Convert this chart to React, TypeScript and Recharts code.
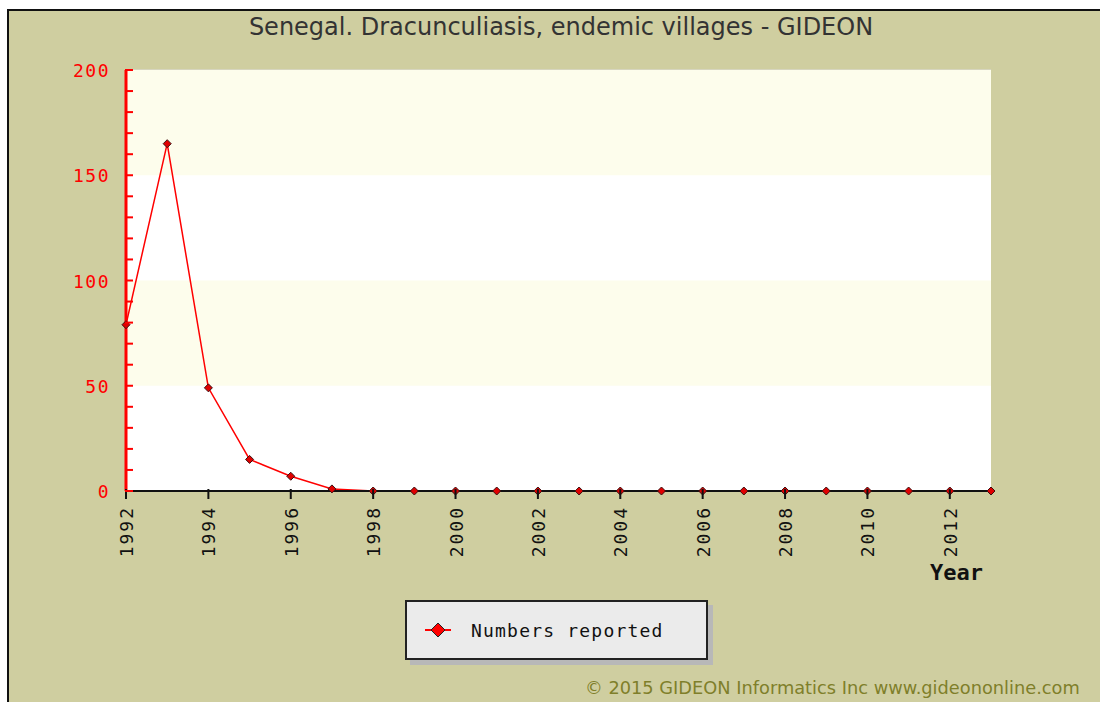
import React from 'react';
import {
  LineChart,
  Line,
  XAxis,
  YAxis,
  CartesianGrid,
  ReferenceArea,
  ReferenceLine,
} from 'recharts';

const years = [
  1992, 1993, 1994, 1995, 1996, 1997, 1998, 1999, 2000, 2001, 2002,
  2003, 2004, 2005, 2006, 2007, 2008, 2009, 2010, 2011, 2012, 2013,
];
const reported = [79, 165, 49, 15, 7, 1, 0, 0, 0, 0, 0, 0, 0, 0, 0, 0, 0, 0, 0, 0, 0, 0];
const yearTicks = [1992, 1994, 1996, 1998, 2000, 2002, 2004, 2006, 2008, 2010, 2012];
const valueTicks = [0, 10, 20, 30, 40, 50, 60, 70, 80, 90, 100, 110, 120, 130, 140, 150, 160, 170, 180, 190, 200];

const data = years.map((year, i) => ({ year, value: reported[i] }));

const BG = '#cfcea0';
const MONO = '"DejaVu Sans Mono", "Liberation Mono", monospace';

const Diamond = (props: any) => {
  const { cx, cy } = props;
  if (cx == null || cy == null) return null;
  const r = 4;
  return (
    <path
      d={`M${cx},${cy - r} L${cx + r},${cy} L${cx},${cy + r} L${cx - r},${cy} Z`}
      fill="#e00000"
      stroke="#3a1010"
      strokeWidth={1}
    />
  );
};

const YTick = (props: any) => {
  const { x, y, payload } = props;
  const major = payload.value % 50 === 0;
  return (
    <g>
      <line x1={x + 7} x2={x + 15} y1={y} y2={y} stroke="#ff0000" strokeWidth={2} />
      {major && (
        <text
          x={x - 8}
          y={y + 7}
          textAnchor="end"
          fill="#ff0000"
          fontSize={18}
          letterSpacing={1.5}
          fontFamily={MONO}
        >
          {payload.value}
        </text>
      )}
    </g>
  );
};

const XTick = (props: any) => {
  const { x, y, payload } = props;
  return (
    <g>
      <line x1={x} x2={x} y1={y - 10} y2={y} stroke="#111" strokeWidth={2} />
      <text
        x={x + 7}
        y={y + 7}
        transform={`rotate(-90, ${x + 7}, ${y + 7})`}
        textAnchor="end"
        fill="#111"
        fontSize={18}
        letterSpacing={2}
        fontFamily={MONO}
      >
        {payload.value}
      </text>
    </g>
  );
};

export default function App() {
  return (
    <div
      style={{
        position: 'fixed',
        left: 7,
        top: 9,
        width: 1093,
        height: 693,
        background: BG,
        borderLeft: '2px solid #111',
        borderTop: '2px solid #111',
        overflow: 'hidden',
        boxSizing: 'border-box',
      }}
    >
      <div
        style={{
          position: 'absolute',
          left: -8,
          width: 1120,
          top: 2,
          textAlign: 'center',
          fontFamily: '"DejaVu Sans", sans-serif',
          fontSize: 24,
          color: '#333',
          whiteSpace: 'nowrap',
        }}
      >
        Senegal. Dracunculiasis, endemic villages - GIDEON
      </div>
      <div
        style={{
          position: 'absolute',
          left: 921,
          top: 549,
          fontFamily: MONO,
          fontWeight: 'bold',
          fontSize: 22,
          color: '#111',
        }}
      >
        Year
      </div>
      <div
        style={{
          position: 'absolute',
          left: 396,
          top: 589,
          width: 299,
          height: 56,
          background: '#ebebeb',
          border: '2px solid #222',
          boxShadow: '5px 5px 0 #b8b8b8',
          display: 'flex',
          alignItems: 'center',
          fontFamily: MONO,
          fontSize: 18,
          letterSpacing: 1.2,
          color: '#111',
        }}
      >
        <svg width={40} height={20} style={{ marginLeft: 18 }}>
          <line x1={0} x2={26} y1={10} y2={10} stroke="#ff0000" strokeWidth={2} />
          <path d="M13,3 L20,10 L13,17 L6,10 Z" fill="#ff0000" stroke="#222" strokeWidth={1} />
        </svg>
        <span style={{ marginLeft: 6 }}>Numbers reported</span>
      </div>
      <div
        style={{
          position: 'absolute',
          left: 576,
          top: 667,
          lineHeight: '20px',
          whiteSpace: 'nowrap',
          fontFamily: '"DejaVu Sans", sans-serif',
          fontSize: 17.8,
          color: '#7f7f2a',
        }}
      >
        © 2015 GIDEON Informatics Inc www.gideononline.com
      </div>
      <LineChart
        width={1091}
        height={691}
        data={data}
        margin={{ top: 59, right: 109, bottom: 151, left: 57 }}
      >
        <ReferenceArea y1={0} y2={200} fill="#ffffff" fillOpacity={1} />
        <ReferenceArea y1={150} y2={200} fill="#fdfdec" fillOpacity={1} />
        <ReferenceArea y1={50} y2={100} fill="#fdfdec" fillOpacity={1} />
        <CartesianGrid vertical={false} stroke="#dcdcdc" strokeWidth={1} />
        <XAxis
          dataKey="year"
          type="number"
          domain={[1992, 2013]}
          ticks={yearTicks}
          interval={0}
          height={60}
          stroke="#111"
          strokeWidth={2}
          tickLine={false}
          tick={<XTick />}
        />
        <YAxis
          type="number"
          domain={[0, 200]}
          ticks={valueTicks}
          interval={0}
          width={60}
          stroke="#ff0000"
          strokeWidth={3}
          tickLine={false}
          tick={<YTick />}
        />
        <Line
          dataKey="value"
          stroke="#ff0000"
          strokeWidth={1.5}
          dot={<Diamond />}
          activeDot={false}
          isAnimationActive={false}
        />
        <ReferenceLine y={0} stroke="#111" strokeWidth={2} />
      </LineChart>
    </div>
  );
}
